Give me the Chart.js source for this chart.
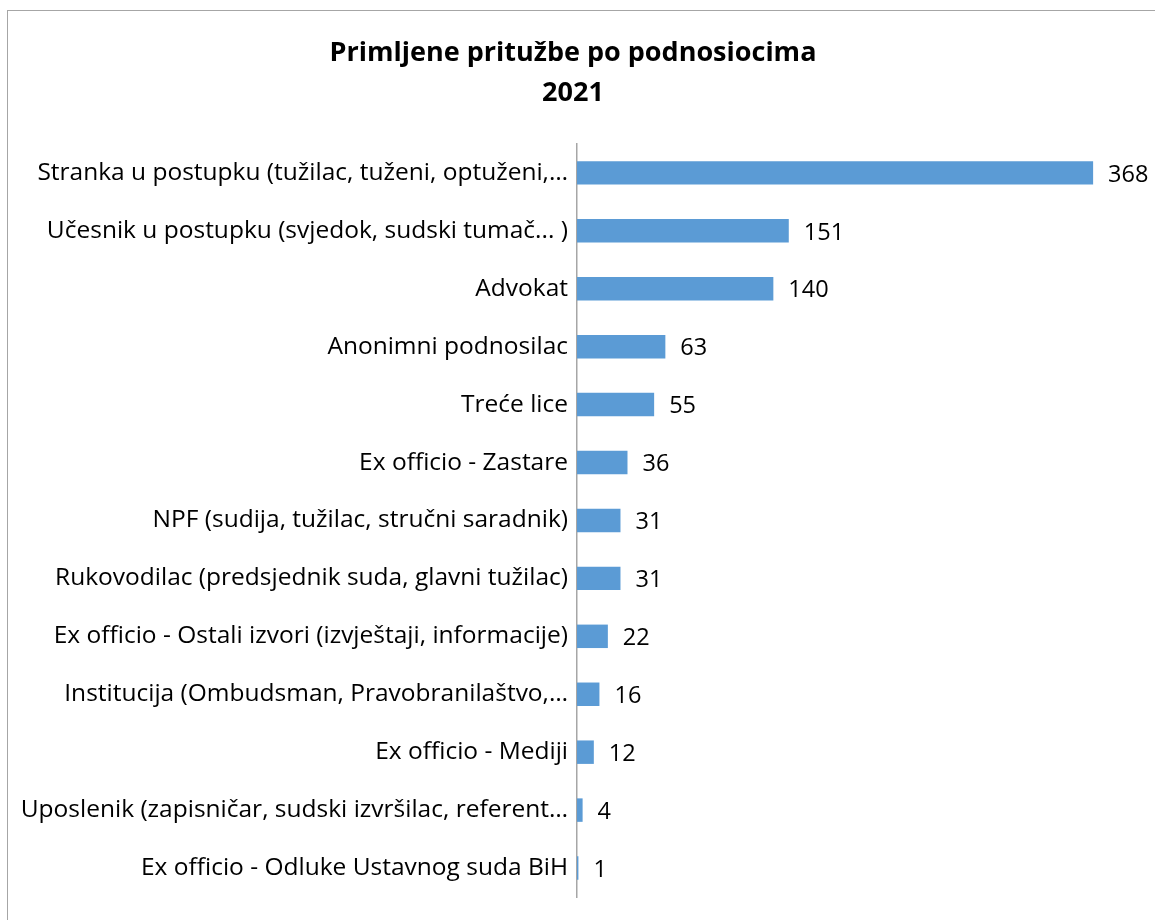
<!DOCTYPE html>
<html>
<head>
<meta charset="utf-8">
<script src="https://cdn.jsdelivr.net/npm/chart.js@4.4.1/dist/chart.umd.min.js"></script>
<style>
  html, body { margin: 0; padding: 0; background: #fff; overflow: hidden; }
  #frame {
    position: absolute; left: 7px; top: 10px;
    width: 1160px; height: 930px;
    border: 1.5px solid #a6a6a6; box-sizing: border-box;
  }
  #chartBox { position: absolute; left: 0; top: 0; width: 1160px; height: 905px; }
</style>
</head>
<body>
<div id="frame">
  <div id="chartBox"><canvas id="complaintsChart"></canvas></div>
</div>
<script>
const categories = [
  'Stranka u postupku (tužilac, tuženi, optuženi,…',
  'Učesnik u postupku (svjedok, sudski tumač... )',
  'Advokat',
  'Anonimni podnosilac',
  'Treće lice',
  'Ex officio - Zastare',
  'NPF (sudija, tužilac, stručni saradnik)',
  'Rukovodilac (predsjednik suda, glavni tužilac)',
  'Ex officio - Ostali izvori (izvještaji, informacije)',
  'Institucija (Ombudsman, Pravobranilaštvo,…',
  'Ex officio - Mediji',
  'Uposlenik (zapisničar, sudski izvršilac, referent…',
  'Ex officio - Odluke Ustavnog suda BiH'
];
const complaints = [368, 151, 140, 63, 55, 36, 31, 31, 22, 16, 12, 4, 1];
const titleLines = ['Primljene pritužbe po podnosiocima', '2021'];

const FONT = '"Open Sans", Lato, sans-serif';

// value labels at the end of each bar
const barValues = {
  id: 'barValues',
  afterDatasetsDraw(chart) {
    const ctx = chart.ctx;
    const meta = chart.getDatasetMeta(0);
    ctx.save();
    ctx.font = '23.5px ' + FONT;
    ctx.fillStyle = '#000';
    ctx.textAlign = 'left';
    ctx.textBaseline = 'middle';
    meta.data.forEach((bar, i) => {
      ctx.fillText(complaints[i], bar.x + 15, bar.y + 2);
    });
    ctx.restore();
  }
};

new Chart(document.getElementById('complaintsChart').getContext('2d'), {
  type: 'bar',
  data: {
    labels: categories,
    datasets: [{
      data: complaints,
      backgroundColor: '#5b9bd5',
      borderWidth: 0,
      categoryPercentage: 1,
      barPercentage: 0.405
    }]
  },
  options: {
    indexAxis: 'y',
    responsive: true,
    maintainAspectRatio: false,
    animation: false,
    layout: { padding: { left: 0, right: 30, top: 0, bottom: 19 } },
    scales: {
      x: {
        display: false,
        min: 0,
        max: 400
      },
      y: {
        grid: { display: false },
        border: { display: true, color: '#a6a6a6', width: 1.5 },
        ticks: {
          color: '#000',
          padding: 1,
          font: { family: FONT, size: 24.5 }
        },
        afterFit: (scale) => { scale.width = 569; }
      }
    },
    plugins: {
      legend: { display: false },
      tooltip: { enabled: false },
      title: {
        display: true,
        text: titleLines,
        color: '#000',
        font: { family: FONT, size: 27, weight: 'bold', lineHeight: 1.48 },
        padding: { top: 22, bottom: 31 }
      }
    }
  },
  plugins: [barValues]
});
</script>
</body>
</html>
